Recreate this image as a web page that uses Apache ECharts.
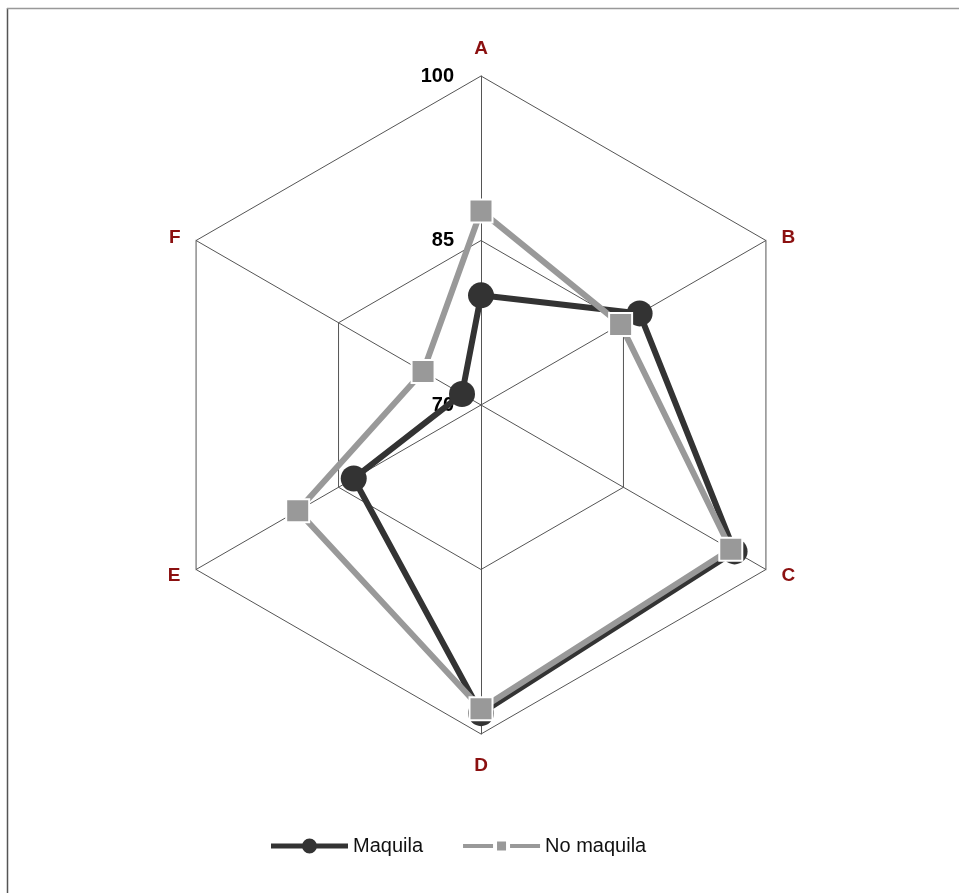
<!DOCTYPE html>
<html><head><meta charset="utf-8">
<script src="https://cdn.jsdelivr.net/npm/echarts@6/dist/echarts.min.js"></script>
<style>html,body{margin:0;padding:0;background:#fff}#c{width:959px;height:893px}</style>
</head><body><div id="c"></div>
<script>
// ---- data ----
const indicators = ['A', 'B', 'C', 'D', 'E', 'F'];
const seriesNames = ['Maquila', 'No maquila'];
const maquila = [80.0, 86.7, 96.7, 98.1, 83.4, 72.0];
const noMaquila = [87.7, 84.7, 96.3, 97.7, 89.3, 76.1];
const axisMin = 70, axisMax = 100;
const tickLabels = ['70', '85', '100'];

// ECharts lays indicators counter-clockwise; reorder so A,B,C... run clockwise
const order = [0, 5, 4, 3, 2, 1];
const namePad = { B: 'dn', F: 'dn', C: 'up', E: 'up', D: 'bt' };

const chart = echarts.init(document.getElementById('c'), null, { renderer: 'canvas' });

const indicatorOpts = order.map((i, k) => {
  const o = { name: indicators[i], min: axisMin, max: axisMax };
  if (k === 0) {
    o.axisLabel = {
      show: true, margin: 27, color: '#000', fontSize: 20, fontWeight: 'bold',
      fontFamily: 'Liberation Sans, Arial, sans-serif',
      formatter: (v) => tickLabels[Math.round((v - axisMin) / ((axisMax - axisMin) / (tickLabels.length - 1)))]
    };
  }
  return o;
});

const maqIcon = 'path://M0 5 L77 5 L77 10 L0 10 Z M31 7.5 A7.5 7.5 0 1 1 46 7.5 A7.5 7.5 0 1 1 31 7.5 Z';
const noIcon = 'path://M0 0 L0.01 0 L0 0.01 Z M77 15 L76.99 15 L77 14.99 Z M0 5.5 L30 5.5 L30 9.5 L0 9.5 Z M34 3 L43 3 L43 12 L34 12 Z M47 5.5 L77 5.5 L77 9.5 L47 9.5 Z';

const option = {
  backgroundColor: '#fff',
  animation: false,
  graphic: [
    { type: 'line', shape: { x1: 7.5, y1: 8, x2: 7.5, y2: 900 }, style: { stroke: '#555', lineWidth: 1.5 } },
    { type: 'line', shape: { x1: 7, y1: 8.5, x2: 960, y2: 8.5 }, style: { stroke: '#999', lineWidth: 1.5 } }
  ],
  legend: {
    left: 271, top: 836, padding: 0, itemWidth: 77, itemHeight: 15, itemGap: 40,
    symbolKeepAspect: false,
    itemStyle: { borderWidth: 0 },
    textStyle: { color: '#111', fontSize: 20, fontFamily: 'Liberation Sans, Arial, sans-serif' },
    data: [
      { name: seriesNames[0], icon: maqIcon, itemStyle: { color: '#333', borderWidth: 0 } },
      { name: seriesNames[1], icon: noIcon, itemStyle: { color: '#999', borderWidth: 0 } }
    ]
  },
  radar: {
    center: [481, 405], radius: 329, shape: 'polygon', splitNumber: tickLabels.length - 1,
    startAngle: 90,
    indicator: indicatorOpts,
    nameGap: 18,
    axisName: {
      color: '#8B1010', fontSize: 19, fontWeight: 'bold', fontFamily: 'Liberation Sans, Arial, sans-serif',
      formatter: (name) => namePad[name] ? '{' + namePad[name] + '|' + name + '}' : name,
      rich: {
        dn: { padding: [12, 0, 0, 0] },
        up: { padding: [0, 0, 6, 0] },
        bt: { padding: [4, 0, 0, 0] }
      }
    },
    splitArea: { show: false },
    splitLine: { lineStyle: { color: '#555', width: 1 } },
    axisLine: { lineStyle: { color: '#555', width: 1 } },
    axisTick: { show: false }
  },
  series: [{
    type: 'radar',
    data: [
      {
        name: seriesNames[0], value: order.map(i => maquila[i]),
        symbol: 'circle', symbolSize: 26,
        lineStyle: { color: '#333', width: 6 },
        itemStyle: { color: '#333', borderWidth: 0 }
      },
      {
        name: seriesNames[1], value: order.map(i => noMaquila[i]),
        symbol: 'rect', symbolSize: 23,
        lineStyle: { color: '#999', width: 6 },
        itemStyle: { color: '#999', borderColor: '#fff', borderWidth: 2 }
      }
    ]
  }]
};
chart.setOption(option);
</script></body></html>
